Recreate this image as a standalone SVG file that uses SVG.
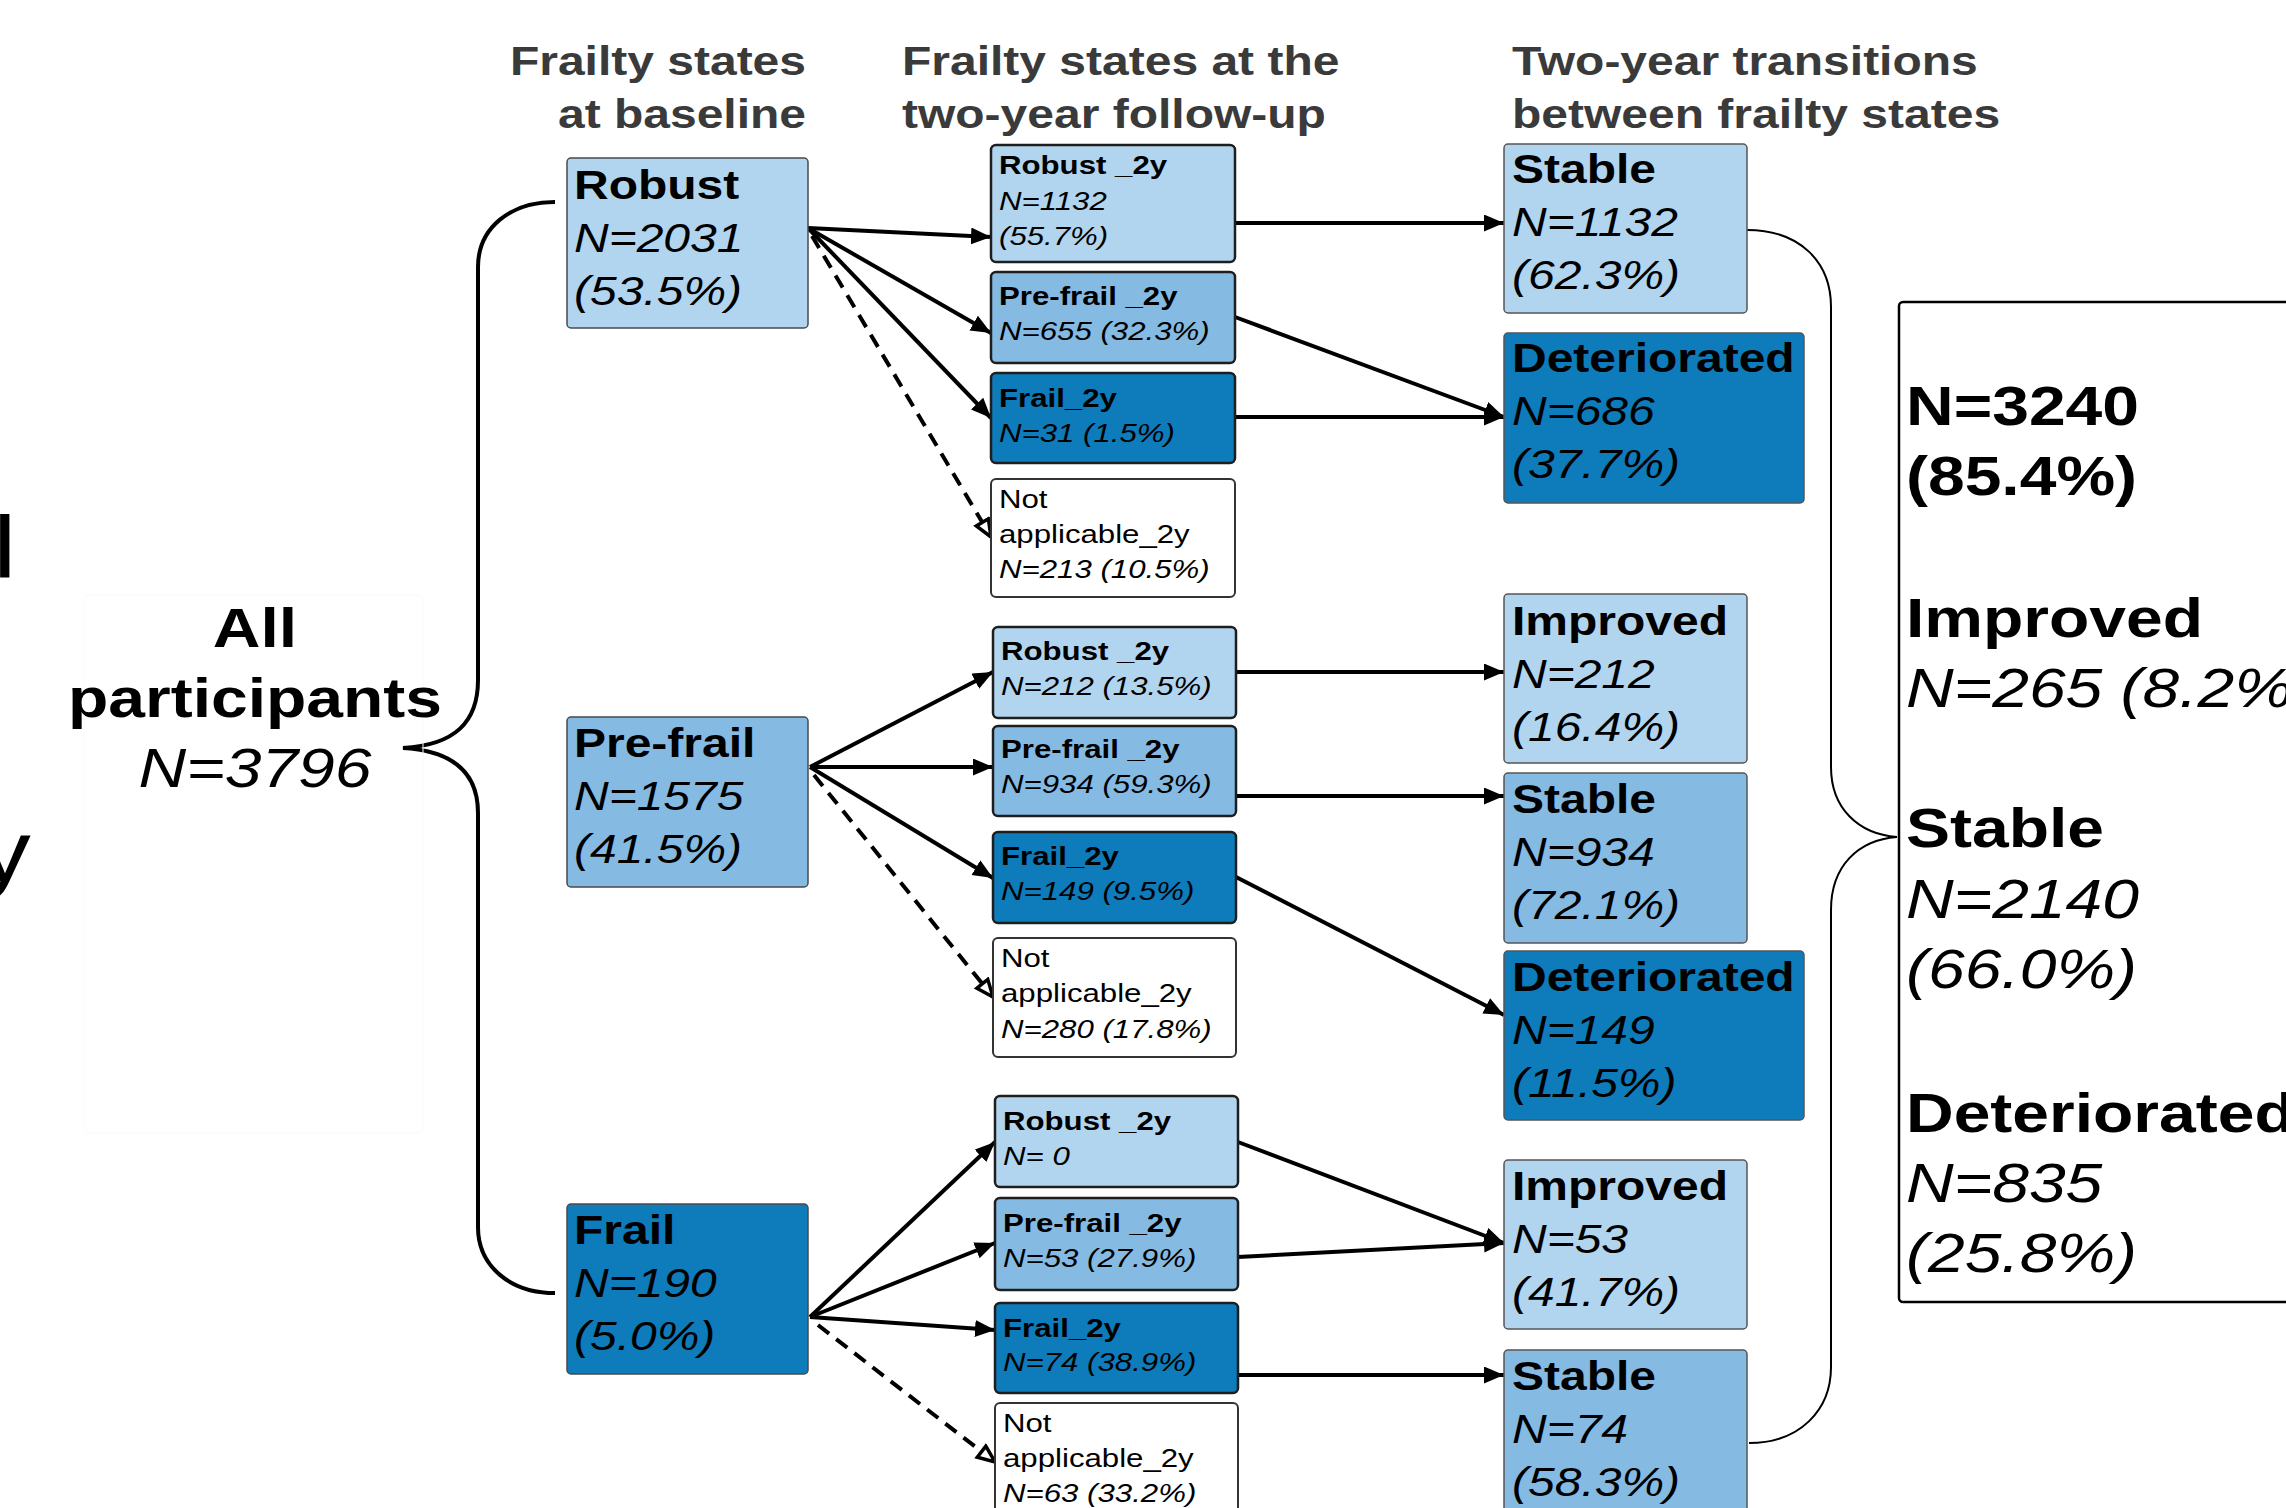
<svg xmlns="http://www.w3.org/2000/svg" width="2286" height="1508" viewBox="0 0 2286 1508">
<defs>
<style>
text{font-family:"Liberation Sans",Arial,sans-serif;fill:#000}
.hdr{font-size:40px;font-weight:bold;fill:#3a3a3a}
.b40{font-size:40px;font-weight:bold}
.i40{font-size:40px;font-style:italic}
.b26{font-size:26px;font-weight:bold}
.i26{font-size:26px;font-style:italic}
.r26{font-size:26px}
.b56{font-size:55px;font-weight:bold}
.i56{font-size:55px;font-style:italic}
.big{font-size:88px}
.light{fill:#b2d5ef}
.med{fill:#85bae3}
.dark{fill:#0e7bbb}
.white{fill:#ffffff}
.c1{stroke:#4a4a4a;stroke-width:1.5}
.c2{stroke:#1e1e1e;stroke-width:2.5}
.c3{stroke:#555555;stroke-width:1.5}
.edge{stroke:#000;stroke-width:4;fill:none;marker-end:url(#ah)}
.dash{stroke:#000;stroke-width:4;fill:none;stroke-dasharray:14 9;marker-end:url(#oh)}
.brace{fill:none;stroke:#000}
</style>
<marker id="ah" markerUnits="userSpaceOnUse" markerWidth="22" markerHeight="18" refX="20" refY="8.5" orient="auto">
<path d="M0,0 L20,8.5 L0,17 z" fill="#000"/>
</marker>
<marker id="oh" markerUnits="userSpaceOnUse" markerWidth="22" markerHeight="20" refX="19" refY="9" orient="auto">
<path d="M2,2 L19,9 L2,16 z" fill="#fff" stroke="#000" stroke-width="3.5"/>
</marker>
</defs>
<rect width="2286" height="1508" fill="#fff"/>

<g id="clipped-left">
<text class="big" transform="translate(-7,577) scale(1.2,1)">l</text>
<text class="big" transform="translate(-22,882) scale(1.2,1)">y</text>
</g>

<g id="headers">
<text class="hdr" text-anchor="end" transform="translate(806,75) scale(1.2,1)"><tspan x="0" y="0">Frailty states</tspan><tspan x="0" y="53">at baseline</tspan></text>
<text class="hdr" transform="translate(902,75) scale(1.2,1)"><tspan x="0" y="0">Frailty states at the</tspan><tspan x="0" y="53">two-year follow-up</tspan></text>
<text class="hdr" transform="translate(1512,75) scale(1.2,1)"><tspan x="0" y="0">Two-year transitions</tspan><tspan x="0" y="53">between frailty states</tspan></text>
</g>

<g id="connectors">
<path class="brace" stroke-width="4" d="M555,202 C510,202 478,228 478,267 L478,680 C478,722 455,745 403,748 C455,751 478,774 478,813 L478,1227 C478,1266 510,1293 555,1293"/>
<path class="brace" stroke-width="2" d="M1747,230 C1800,230 1831,262 1831,307 L1831,767 C1831,808 1858,834 1897,837 C1858,840 1831,866 1831,910 L1831,1367 C1831,1410 1800,1443 1749,1443"/>
<line class="edge" x1="808" y1="228" x2="991" y2="237"/>
<line class="edge" x1="808" y1="228" x2="991" y2="333"/>
<line class="edge" x1="808" y1="228" x2="991" y2="418"/>
<line class="dash" x1="812" y1="236" x2="991" y2="537"/>
<line class="edge" x1="810" y1="767" x2="993" y2="672"/>
<line class="edge" x1="810" y1="767" x2="993" y2="767"/>
<line class="edge" x1="810" y1="767" x2="993" y2="878"/>
<line class="dash" x1="814" y1="775" x2="993" y2="997"/>
<line class="edge" x1="810" y1="1317" x2="995" y2="1142"/>
<line class="edge" x1="810" y1="1317" x2="995" y2="1243"/>
<line class="edge" x1="810" y1="1317" x2="995" y2="1330"/>
<line class="dash" x1="818" y1="1325" x2="995" y2="1462"/>
<line class="edge" x1="1235" y1="223" x2="1504" y2="223"/>
<line class="edge" x1="1235" y1="317" x2="1504" y2="417"/>
<line class="edge" x1="1235" y1="417" x2="1504" y2="417"/>
<line class="edge" x1="1236" y1="672" x2="1504" y2="672"/>
<line class="edge" x1="1236" y1="796" x2="1504" y2="796"/>
<line class="edge" x1="1236" y1="877" x2="1504" y2="1015"/>
<line class="edge" x1="1238" y1="1142" x2="1504" y2="1243"/>
<line class="edge" x1="1238" y1="1257" x2="1504" y2="1243"/>
<line class="edge" x1="1238" y1="1375" x2="1504" y2="1375"/>
</g>

<g id="all-participants">
<rect x="84" y="595" width="339" height="538" rx="6" fill="none" stroke="#fafafa" stroke-width="1"/>
<text text-anchor="middle" transform="translate(255,647) scale(1.2,1)"><tspan class="b56" x="0" y="0">All</tspan><tspan class="b56" x="0" y="70">participants</tspan><tspan class="i56" x="0" y="140">N=3796</tspan></text>
</g>

<g id="robust">
<rect class="light c1" x="567" y="158" width="241" height="170" rx="4"/>
<text transform="translate(574,199) scale(1.2,1)"><tspan class="b40" x="0" y="0">Robust</tspan><tspan class="i40" x="0" y="53">N=2031</tspan><tspan class="i40" x="0" y="106">(53.5%)</tspan></text>
</g>
<g id="prefrail">
<rect class="med c1" x="567" y="717" width="241" height="170" rx="4"/>
<text transform="translate(574,757) scale(1.2,1)"><tspan class="b40" x="0" y="0">Pre-frail</tspan><tspan class="i40" x="0" y="53">N=1575</tspan><tspan class="i40" x="0" y="106">(41.5%)</tspan></text>
</g>
<g id="frail">
<rect class="dark c1" x="567" y="1204" width="241" height="170" rx="4"/>
<text transform="translate(574,1244) scale(1.2,1)"><tspan class="b40" x="0" y="0">Frail</tspan><tspan class="i40" x="0" y="53">N=190</tspan><tspan class="i40" x="0" y="106">(5.0%)</tspan></text>
</g>

<g id="robust-robust2y">
<rect class="light c2" x="991" y="145" width="244" height="117" rx="5"/>
<text transform="translate(999,174) scale(1.2,1)"><tspan class="b26" x="0" y="0">Robust _2y</tspan><tspan class="i26" x="0" y="36">N=1132</tspan><tspan class="i26" x="0" y="71">(55.7%)</tspan></text>
</g>
<g id="robust-prefrail2y">
<rect class="med c2" x="991" y="272" width="244" height="91" rx="5"/>
<text transform="translate(999,305) scale(1.2,1)"><tspan class="b26" x="0" y="0">Pre-frail _2y</tspan><tspan class="i26" x="0" y="35">N=655 (32.3%)</tspan></text>
</g>
<g id="robust-frail2y">
<rect class="dark c2" x="991" y="373" width="244" height="90" rx="5"/>
<text transform="translate(999,407) scale(1.2,1)"><tspan class="b26" x="0" y="0">Frail_2y</tspan><tspan class="i26" x="0" y="35">N=31 (1.5%)</tspan></text>
</g>
<g id="robust-na2y">
<rect class="white" stroke="#333" stroke-width="2" x="991" y="479" width="244" height="118" rx="5"/>
<text transform="translate(999,508) scale(1.2,1)"><tspan class="r26" x="0" y="0">Not</tspan><tspan class="r26" x="0" y="35">applicable_2y</tspan><tspan class="i26" x="0" y="70">N=213 (10.5%)</tspan></text>
</g>

<g id="prefrail-robust2y">
<rect class="light c2" x="993" y="627" width="243" height="91" rx="5"/>
<text transform="translate(1001,660) scale(1.2,1)"><tspan class="b26" x="0" y="0">Robust _2y</tspan><tspan class="i26" x="0" y="35">N=212 (13.5%)</tspan></text>
</g>
<g id="prefrail-prefrail2y">
<rect class="med c2" x="993" y="726" width="243" height="90" rx="5"/>
<text transform="translate(1001,758) scale(1.2,1)"><tspan class="b26" x="0" y="0">Pre-frail _2y</tspan><tspan class="i26" x="0" y="35">N=934 (59.3%)</tspan></text>
</g>
<g id="prefrail-frail2y">
<rect class="dark c2" x="993" y="832" width="243" height="91" rx="5"/>
<text transform="translate(1001,865) scale(1.2,1)"><tspan class="b26" x="0" y="0">Frail_2y</tspan><tspan class="i26" x="0" y="35">N=149 (9.5%)</tspan></text>
</g>
<g id="prefrail-na2y">
<rect class="white" stroke="#333" stroke-width="2" x="993" y="938" width="243" height="119" rx="5"/>
<text transform="translate(1001,967) scale(1.2,1)"><tspan class="r26" x="0" y="0">Not</tspan><tspan class="r26" x="0" y="35">applicable_2y</tspan><tspan class="i26" x="0" y="71">N=280 (17.8%)</tspan></text>
</g>

<g id="frail-robust2y">
<rect class="light c2" x="995" y="1096" width="243" height="91" rx="5"/>
<text transform="translate(1003,1130) scale(1.2,1)"><tspan class="b26" x="0" y="0">Robust _2y</tspan><tspan class="i26" x="0" y="35">N= 0</tspan></text>
</g>
<g id="frail-prefrail2y">
<rect class="med c2" x="995" y="1198" width="243" height="92" rx="5"/>
<text transform="translate(1003,1232) scale(1.2,1)"><tspan class="b26" x="0" y="0">Pre-frail _2y</tspan><tspan class="i26" x="0" y="35">N=53 (27.9%)</tspan></text>
</g>
<g id="frail-frail2y">
<rect class="dark c2" x="995" y="1303" width="243" height="90" rx="5"/>
<text transform="translate(1003,1337) scale(1.2,1)"><tspan class="b26" x="0" y="0">Frail_2y</tspan><tspan class="i26" x="0" y="34">N=74 (38.9%)</tspan></text>
</g>
<g id="frail-na2y">
<rect class="white" stroke="#333" stroke-width="2" x="995" y="1403" width="243" height="125" rx="5"/>
<text transform="translate(1003,1432) scale(1.2,1)"><tspan class="r26" x="0" y="0">Not</tspan><tspan class="r26" x="0" y="35">applicable_2y</tspan><tspan class="i26" x="0" y="70">N=63 (33.2%)</tspan></text>
</g>

<g id="stable-1">
<rect class="light c3" x="1504" y="144" width="243" height="169" rx="4"/>
<text transform="translate(1512,183) scale(1.2,1)"><tspan class="b40" x="0" y="0">Stable</tspan><tspan class="i40" x="0" y="53">N=1132</tspan><tspan class="i40" x="0" y="106">(62.3%)</tspan></text>
</g>
<g id="deteriorated-1">
<rect class="dark c3" x="1504" y="333" width="300" height="170" rx="4"/>
<text transform="translate(1512,372) scale(1.2,1)"><tspan class="b40" x="0" y="0">Deteriorated</tspan><tspan class="i40" x="0" y="53">N=686</tspan><tspan class="i40" x="0" y="106">(37.7%)</tspan></text>
</g>
<g id="improved-2">
<rect class="light c3" x="1504" y="594" width="243" height="169" rx="4"/>
<text transform="translate(1512,635) scale(1.2,1)"><tspan class="b40" x="0" y="0">Improved</tspan><tspan class="i40" x="0" y="53">N=212</tspan><tspan class="i40" x="0" y="106">(16.4%)</tspan></text>
</g>
<g id="stable-2">
<rect class="med c3" x="1504" y="773" width="243" height="170" rx="4"/>
<text transform="translate(1512,813) scale(1.2,1)"><tspan class="b40" x="0" y="0">Stable</tspan><tspan class="i40" x="0" y="53">N=934</tspan><tspan class="i40" x="0" y="106">(72.1%)</tspan></text>
</g>
<g id="deteriorated-2">
<rect class="dark c3" x="1504" y="951" width="300" height="169" rx="4"/>
<text transform="translate(1512,991) scale(1.2,1)"><tspan class="b40" x="0" y="0">Deteriorated</tspan><tspan class="i40" x="0" y="53">N=149</tspan><tspan class="i40" x="0" y="106">(11.5%)</tspan></text>
</g>
<g id="improved-3">
<rect class="light c3" x="1504" y="1160" width="243" height="169" rx="4"/>
<text transform="translate(1512,1200) scale(1.2,1)"><tspan class="b40" x="0" y="0">Improved</tspan><tspan class="i40" x="0" y="53">N=53</tspan><tspan class="i40" x="0" y="106">(41.7%)</tspan></text>
</g>
<g id="stable-3">
<rect class="med c3" x="1504" y="1350" width="243" height="175" rx="4"/>
<text transform="translate(1512,1390) scale(1.2,1)"><tspan class="b40" x="0" y="0">Stable</tspan><tspan class="i40" x="0" y="53">N=74</tspan><tspan class="i40" x="0" y="106">(58.3%)</tspan></text>
</g>

<g id="summary">
<rect x="1899" y="302" width="420" height="1000" rx="4" fill="#fff" stroke="#000" stroke-width="2.5"/>
<text transform="translate(1906,425) scale(1.2,1)"><tspan class="b56" x="0" y="0">N=3240</tspan><tspan class="b56" x="0" y="70">(85.4%)</tspan><tspan class="b56" x="0" y="212">Improved</tspan><tspan class="i56" x="0" y="282">N=265 (8.2%)</tspan><tspan class="b56" x="0" y="422">Stable</tspan><tspan class="i56" x="0" y="493">N=2140</tspan><tspan class="i56" x="0" y="563">(66.0%)</tspan><tspan class="b56" x="0" y="707">Deteriorated</tspan><tspan class="i56" x="0" y="777">N=835</tspan><tspan class="i56" x="0" y="847">(25.8%)</tspan></text>
</g>
</svg>
